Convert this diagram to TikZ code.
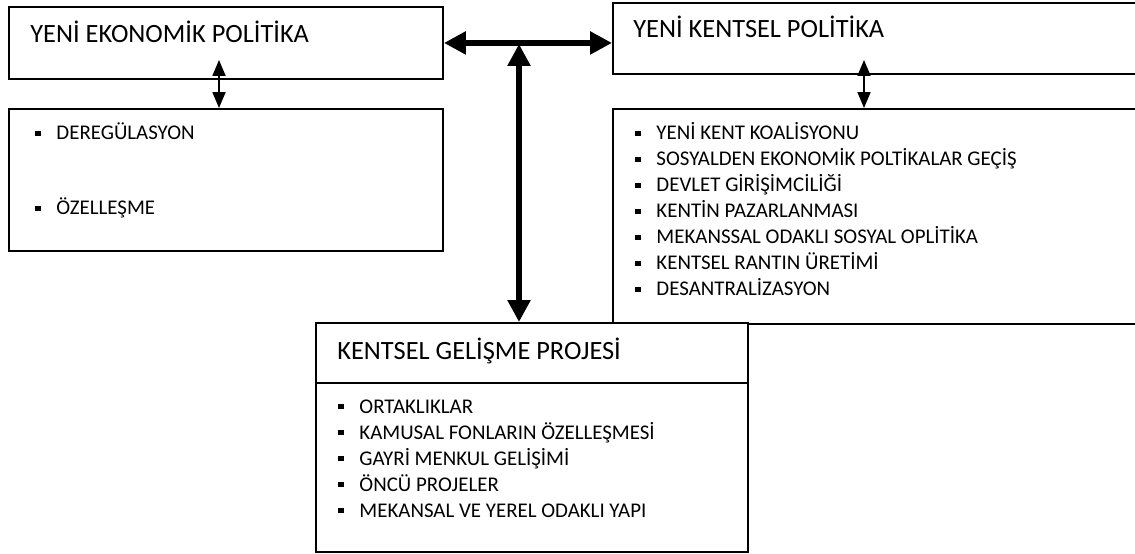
\documentclass[tikz,border=0pt]{standalone}
\usepackage{fontspec}
\setmainfont{Carlito}
\usetikzlibrary{arrows.meta}

\newcommand{\sqbul}{\makebox[12pt][l]{\raisebox{2.1pt}{\rule{3.2pt}{3.2pt}}}}

\begin{document}
\begin{tikzpicture}[
    x=0.2mm, y=-0.2mm,
    box/.style={rectangle, draw, line width=1.1pt, fill=white, inner sep=0pt, anchor=north west},
    title/.style={anchor=base west, inner sep=0pt, font=\fontsize{15}{18}\selectfont},
    item/.style={anchor=base west, inner sep=0pt, font=\fontsize{11.9}{14}\selectfont},
    bigarrow/.style={{Triangle[width=12.5pt,length=12.5pt]}-{Triangle[width=12.5pt,length=12.5pt]}, line width=3.4pt},
    thinarrow/.style={{Triangle[width=7.4pt,length=9pt]}-{Triangle[width=7.4pt,length=9pt]}, line width=0.85pt}
]
\useasboundingbox (0,0) rectangle (1135,554);
\clip (0,0) rectangle (1135,554);

% Boxes
\node[box, minimum width=86.8mm, minimum height=14.4mm] (ekon) at (8,6) {};
\node[box, minimum width=86.8mm, minimum height=28.4mm] (ekonlist) at (8,108) {};
\node[box, minimum width=106.6mm, minimum height=14.2mm] (kent) at (612,2) {};
\node[box, minimum width=106.6mm, minimum height=43mm] (kentlist) at (612,108) {};
\node[box, minimum width=86.4mm, minimum height=45.8mm] (proje) at (315,322) {};
\draw[line width=1.1pt] (proje.west |- 0,383) -- (proje.east |- 0,383);

% Titles
\node[title] (ekontitle) at (30,43) {YENİ EKONOMİK POLİTİKA};
\node[title] (kenttitle) at (633,38) {YENİ KENTSEL POLİTİKA};
\node[title] (projetitle) at (337,359) {KENTSEL GELİŞME PROJESİ};

% Lists
\node[item] (e1) at (35,140) {\sqbul DEREGÜLASYON};
\node[item] (e2) at (35,215) {\sqbul ÖZELLEŞME};

\foreach \t [count=\i] in {YENİ KENT KOALİSYONU, SOSYALDEN EKONOMİK POLTİKALAR GEÇİŞ,
    DEVLET GİRİŞİMCİLİĞİ, KENTİN PAZARLANMASI, MEKANSSAL ODAKLI SOSYAL OPLİTİKA,
    KENTSEL RANTIN ÜRETİMİ, DESANTRALİZASYON}
  \node[item] (k\i) at (635,{140+26*(\i-1)}) {\sqbul \t};

\foreach \t [count=\i] in {ORTAKLIKLAR, KAMUSAL FONLARIN ÖZELLEŞMESİ, GAYRİ MENKUL GELİŞİMİ,
    ÖNCÜ PROJELER, MEKANSAL VE YEREL ODAKLI YAPI}
  \node[item] (p\i) at (338,{413+26*(\i-1)}) {\sqbul \t};

% Connections
\coordinate (ea) at (219,60);
\coordinate (ka) at (864,60);
\coordinate (hub) at (519,44);
\draw[thinarrow] (ea) -- (ekonlist.north -| ea);
\draw[thinarrow] (ka) -- (kentlist.north -| ka);
\draw[bigarrow] (ekon.east) -- (ekon.east -| kent.west);
\draw[bigarrow] (hub) -- (hub |- proje.north);

\end{tikzpicture}
\end{document}
